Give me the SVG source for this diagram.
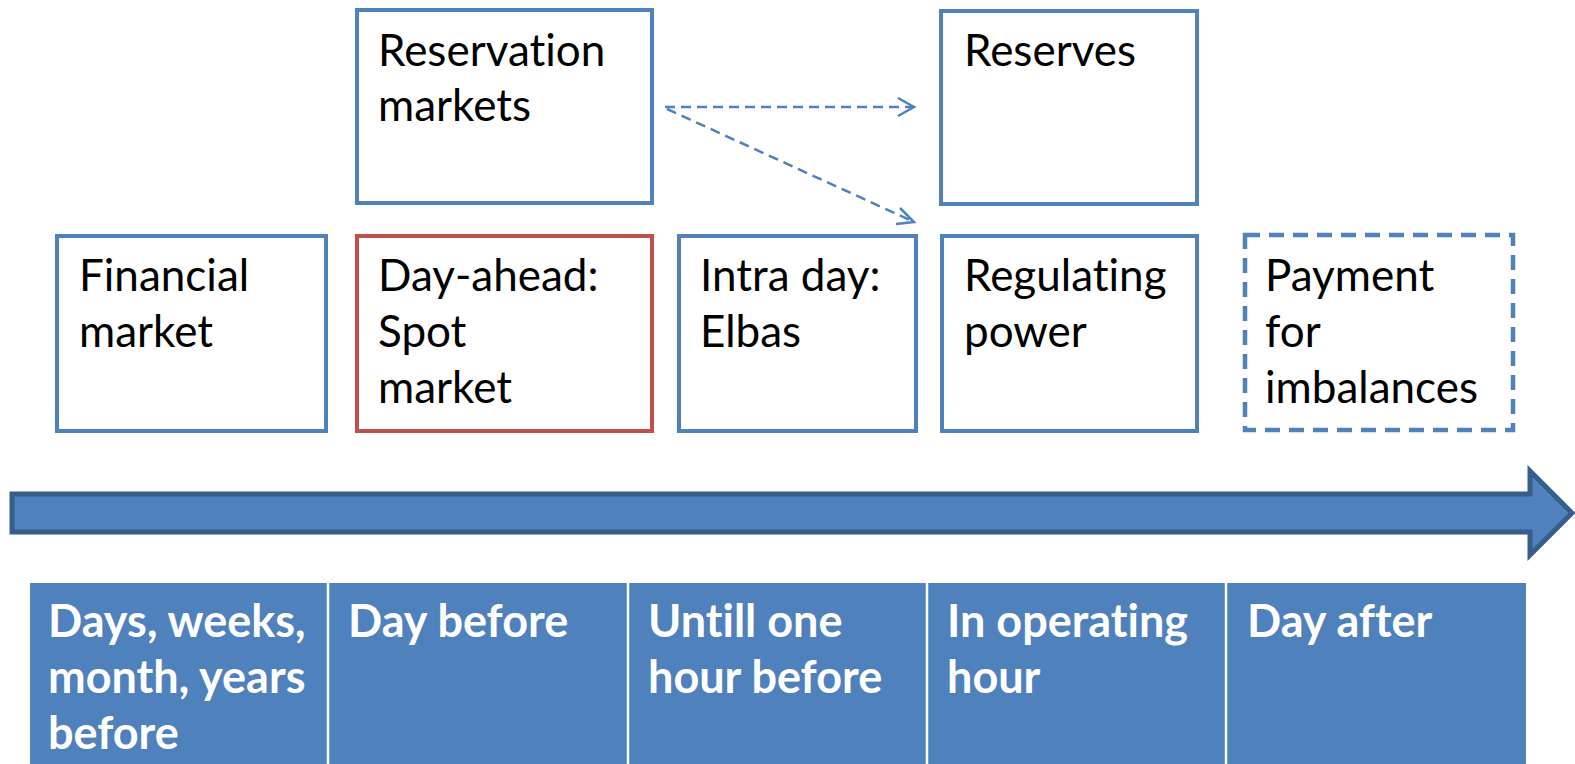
<svg xmlns="http://www.w3.org/2000/svg" width="1575" height="764" viewBox="0 0 1575 764">
<style>
.box{fill:#fff;stroke:#4F81BD;stroke-width:4}
.red{stroke:#C0504D}
.dash{stroke-width:4.5;stroke-dasharray:15 9}
.t{font-family:Lato,"Liberation Sans",sans-serif;font-size:44px;fill:#000;font-variant-ligatures:none}
.w{font-family:Lato,"Liberation Sans",sans-serif;font-size:45px;font-weight:bold;fill:#fff;font-variant-ligatures:none}
.cell{fill:#4F81BD}
.conn{fill:none;stroke:#4F81BD;stroke-width:2.5;stroke-dasharray:10 6}
.head{fill:none;stroke:#4F81BD;stroke-width:2.5}
</style>
<rect width="1575" height="764" fill="#fff"/>
<g id="reservation"><rect class="box" x="357" y="10" width="295" height="193"/><text class="t" x="378" y="66">Reservation</text><text class="t" x="378" y="121">markets</text></g>
<g id="reserves"><rect class="box" x="941" y="11" width="256" height="193"/><text class="t" x="964" y="66">Reserves</text></g>
<g id="financial"><rect class="box" x="57" y="236" width="269" height="195"/><text class="t" x="79" y="291">Financial</text><text class="t" x="79" y="347">market</text></g>
<g id="dayahead"><rect class="box red" x="357" y="236" width="295" height="195"/><text class="t" x="378" y="291">Day-ahead:</text><text class="t" x="378" y="347">Spot</text><text class="t" x="378" y="403">market</text></g>
<g id="intraday"><rect class="box" x="679" y="236" width="237" height="195"/><text class="t" x="700" y="291">Intra day:</text><text class="t" x="700" y="347">Elbas</text></g>
<g id="regulating"><rect class="box" x="942" y="236" width="255" height="195"/><text class="t" x="964" y="291">Regulating</text><text class="t" x="964" y="347">power</text></g>
<g id="payment"><rect class="box dash" x="1245" y="235" width="268" height="195"/><text class="t" x="1265" y="291">Payment</text><text class="t" x="1265" y="347">for</text><text class="t" x="1265" y="403">imbalances</text></g>
<g id="connectors">
<line class="conn" x1="665" y1="107" x2="913" y2="107"/>
<polyline class="head" points="898,98 914,107 898,116"/>
<line class="conn" x1="667" y1="109" x2="912" y2="221"/>
<polyline class="head" points="900,208 914,222 896,224"/>
</g>
<g id="timeline">
<path d="M12,494 H1530 V471 L1572,513 L1530,555 V532 H12 Z" fill="#4F81BD" stroke="#385D8A" stroke-width="5" stroke-linejoin="miter"/>
</g>
<g id="periods">
<rect class="cell" x="30" y="583" width="1496" height="181"/>
<g stroke="#fff" stroke-width="2.5"><line x1="328" y1="583" x2="328" y2="764"/><line x1="628" y1="583" x2="628" y2="764"/><line x1="927" y1="583" x2="927" y2="764"/><line x1="1226" y1="583" x2="1226" y2="764"/></g>
<g id="p1"><text class="w" x="48" y="637">Days, weeks,</text><text class="w" x="48" y="693">month, years</text><text class="w" x="48" y="749">before</text></g>
<g id="p2"><text class="w" x="348" y="637">Day before</text></g>
<g id="p3"><text class="w" x="648" y="637">Untill one</text><text class="w" x="648" y="693">hour before</text></g>
<g id="p4"><text class="w" x="947" y="637">In operating</text><text class="w" x="947" y="693">hour</text></g>
<g id="p5"><text class="w" x="1247" y="637">Day after</text></g>
</g>
</svg>
